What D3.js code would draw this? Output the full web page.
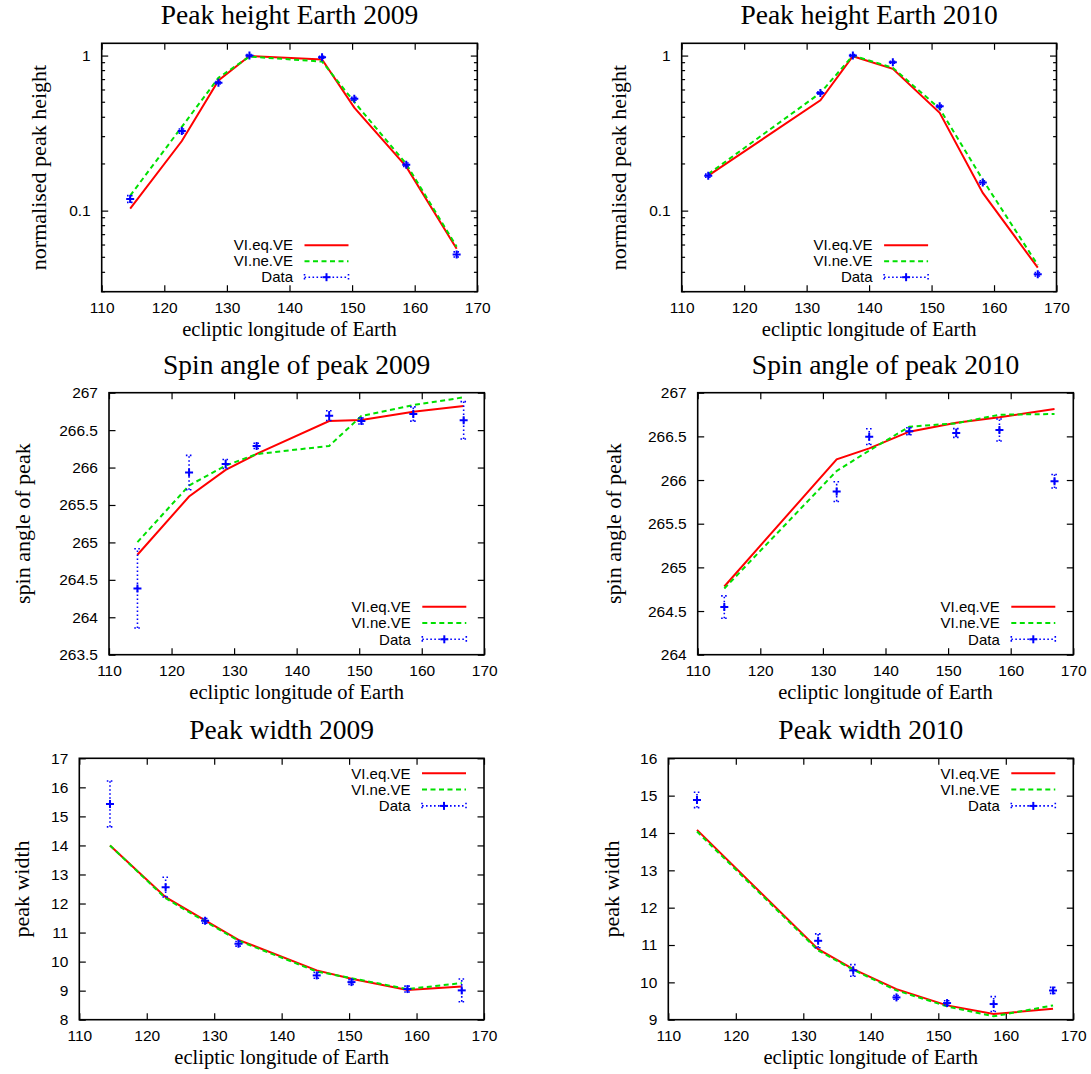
<!DOCTYPE html>
<html><head><meta charset="utf-8">
<script src="https://cdn.jsdelivr.net/npm/d3@7"></script>
<style>body{margin:0;background:#fff}svg{display:block}</style>
</head><body>
<svg id="c" width="1091" height="1074"></svg>
<script>
// ---------------- data ----------------
const lon2009 = [114.55, 122.8, 128.65, 133.6, 145.2, 150.35, 158.65, 166.7];
const lon2010 = [114.25, 132.2, 137.4, 143.8, 151.3, 158.2, 167.0];
const xTicks = [110, 120, 130, 140, 150, 160, 170];

const height09Data = [0.119, 0.326, 0.668, 1.0, 0.976, 0.527, 0.198, 0.0522];
const height09Err  = [0.006, 0.010, 0.012, 0.015, 0.015, 0.012, 0.005, 0.002];
const height09Eq   = [0.103, 0.281, 0.692, 0.995, 0.943, 0.462, 0.192, 0.0568];
const height09Ne   = [0.125, 0.347, 0.719, 0.985, 0.915, 0.502, 0.200, 0.0585];

const height10Data = [0.168, 0.574, 1.0, 0.906, 0.471, 0.152, 0.0389];
const height10Err  = [0.004, 0.010, 0.015, 0.012, 0.008, 0.004, 0.001];
const height10Eq   = [0.168, 0.515, 0.99, 0.821, 0.427, 0.130, 0.0429];
const height10Ne   = [0.172, 0.574, 1.0, 0.834, 0.455, 0.158, 0.0446];

const spin09Data = [264.386, 265.933, 266.048, 266.289, 266.693, 266.622, 266.715, 266.631];
const spin09Err  = [0.53, 0.23, 0.06, 0.035, 0.065, 0.04, 0.095, 0.25];
const spin09Eq   = [264.835, 265.613, 265.968, 266.182, 266.622, 266.635, 266.747, 266.822];
const spin09Ne   = [265.004, 265.76, 266.026, 266.18, 266.289, 266.689, 266.835, 266.938];

const spin10Data = [264.545, 265.868, 266.497, 266.558, 266.539, 266.573, 265.986];
const spin10Err  = [0.128, 0.113, 0.09, 0.04, 0.05, 0.126, 0.078];
const spin10Eq   = [264.781, 266.238, 266.363, 266.554, 266.657, 266.718, 266.813];
const spin10Ne   = [264.758, 266.104, 266.337, 266.611, 266.649, 266.748, 266.756];

const width09Data = [15.43, 12.563, 11.405, 10.614, 9.525, 9.295, 9.055, 9.009];
const width09Err  = [0.79, 0.34, 0.08, 0.08, 0.10, 0.08, 0.10, 0.39];
const width09Eq   = [13.996, 12.22, 11.42, 10.75, 9.697, 9.41, 9.02, 9.146];
const width09Ne   = [14.0, 12.18, 11.38, 10.72, 9.66, 9.43, 9.055, 9.26];

const width10Data = [14.885, 11.113, 10.32, 9.597, 9.446, 9.419, 9.785];
const width10Err  = [0.205, 0.185, 0.155, 0.05, 0.06, 0.20, 0.08];
const width10Eq   = [14.083, 10.89, 10.355, 9.82, 9.383, 9.15, 9.294];
const width10Ne   = [14.038, 10.855, 10.337, 9.785, 9.357, 9.09, 9.383];

const heightTicks = [0.1, 1];
const heightTickLabels = ["0.1", "1"];
const heightMinor = [0.03,0.04,0.05,0.06,0.07,0.08,0.09,0.2,0.3,0.4,0.5,0.6,0.7,0.8,0.9];
const spin09Ticks = [263.5, 264, 264.5, 265, 265.5, 266, 266.5, 267];
const spin10Ticks = [264, 264.5, 265, 265.5, 266, 266.5, 267];
const width09Ticks = [8, 9, 10, 11, 12, 13, 14, 15, 16, 17];
const width10Ticks = [9, 10, 11, 12, 13, 14, 15, 16];

const seriesNames = ["VI.eq.VE", "VI.ne.VE", "Data"];
const xLabel = "ecliptic longitude of Earth";

// ---------------- layout ----------------
const panels = [
  {title:"Peak height Earth 2009", ylabel:"normalised peak height", log:true, yDomain:[0.03,1.2],
   yTicks:heightTicks, yLabels:heightTickLabels, yMinor:heightMinor,
   lon:lon2009, data:height09Data, err:height09Err, eq:height09Eq, ne:height09Ne,
   box:[101.7,477.3,43.3,291.7], ylabX:38.3, key:"bottomcenter"},
  {title:"Peak height Earth 2010", ylabel:"normalised peak height", log:true, yDomain:[0.03,1.2],
   yTicks:heightTicks, yLabels:heightTickLabels, yMinor:heightMinor,
   lon:lon2010, data:height10Data, err:height10Err, eq:height10Eq, ne:height10Ne,
   box:[681.7,1056.5,43.3,291.7], ylabX:618.2, key:"bottomcenter"},
  {title:"Spin angle of peak 2009", ylabel:"spin angle of peak", log:false, yDomain:[263.5,267],
   yTicks:spin09Ticks, lon:lon2009, data:spin09Data, err:spin09Err, eq:spin09Eq, ne:spin09Ne,
   box:[109,484.3,392.7,654.7], ylabX:22.6, key:"bottomright"},
  {title:"Spin angle of peak 2010", ylabel:"spin angle of peak", log:false, yDomain:[264,267],
   yTicks:spin10Ticks, lon:lon2010, data:spin10Data, err:spin10Err, eq:spin10Eq, ne:spin10Ne,
   box:[697.7,1073.3,392.7,654.7], ylabX:613, key:"bottomright"},
  {title:"Peak width 2009", ylabel:"peak width", log:false, yDomain:[8,17],
   yTicks:width09Ticks, lon:lon2009, data:width09Data, err:width09Err, eq:width09Eq, ne:width09Ne,
   box:[79.3,484,758.3,1019.7], ylabX:21.6, key:"topright"},
  {title:"Peak width 2010", ylabel:"peak width", log:false, yDomain:[9,16],
   yTicks:width10Ticks, lon:lon2010, data:width10Data, err:width10Err, eq:width10Eq, ne:width10Ne,
   box:[668.3,1073.3,758.3,1019.7], ylabX:611.2, key:"topright"}
];

const SERIF = "'Liberation Serif','Times New Roman',serif";
const SANS = "'Liberation Sans',Arial,sans-serif";
const RED = "#ff0000", GREEN = "#00e000", BLUE = "#0000ff";
const MAJ = 6.5, MIN = 3.4;

const svg = d3.select("#c");
svg.append("rect").attr("width",1091).attr("height",1074).attr("fill","#fff");

panels.forEach((p, pi) => {
  const [x0, x1, y0, y1] = p.box;
  const w = x1 - x0, h = y1 - y0;
  const g = svg.append("g").attr("transform", `translate(${x0},${y0})`);
  const x = d3.scaleLinear().domain([110,170]).range([0,w]);
  const y = (p.log ? d3.scaleLog() : d3.scaleLinear()).domain(p.yDomain).range([h,0]);

  const clipId = "clip" + pi;
  g.append("clipPath").attr("id", clipId).append("rect").attr("width", w).attr("height", h);

  // axes
  const fmtY = p.yLabels ? (d => p.yLabels[p.yTicks.indexOf(d)]) : (d => String(d));
  const axB = g.append("g").attr("transform",`translate(0,${h})`)
    .call(d3.axisBottom(x).tickValues(xTicks).tickSizeInner(-MAJ).tickSizeOuter(0).tickPadding(10).tickFormat(d=>String(d)));
  const axT = g.append("g")
    .call(d3.axisTop(x).tickValues(xTicks).tickSizeInner(-MAJ).tickSizeOuter(0).tickFormat(""));
  const axL = g.append("g")
    .call(d3.axisLeft(y).tickValues(p.yTicks).tickSizeInner(-MAJ).tickSizeOuter(0).tickPadding(11).tickFormat(fmtY));
  const axR = g.append("g").attr("transform",`translate(${w},0)`)
    .call(d3.axisRight(y).tickValues(p.yTicks).tickSizeInner(-MAJ).tickSizeOuter(0).tickFormat(""));
  [axB, axT, axL, axR].forEach(a => {
    a.select(".domain").remove();
    a.selectAll(".tick line").attr("stroke","#000").attr("stroke-width",1.2);
    a.selectAll(".tick text").attr("font-family",SANS).attr("font-size","15.5px").attr("fill","#000");
  });
  if (p.yMinor) {
    const mg = g.append("g");
    p.yMinor.forEach(v => {
      const yy = y(v);
      mg.append("line").attr("x1",0).attr("x2",MIN).attr("y1",yy).attr("y2",yy).attr("stroke","#000").attr("stroke-width",1.2);
      mg.append("line").attr("x1",w).attr("x2",w-MIN).attr("y1",yy).attr("y2",yy).attr("stroke","#000").attr("stroke-width",1.2);
    });
  }

  // lines
  const plot = g.append("g").attr("clip-path",`url(#${clipId})`);
  const line = d3.line().x(d => x(d[0])).y(d => y(d[1]));
  plot.append("path").datum(p.lon.map((l,i)=>[l,p.eq[i]])).attr("d",line)
    .attr("fill","none").attr("stroke",RED).attr("stroke-width",2);
  plot.append("path").datum(p.lon.map((l,i)=>[l,p.ne[i]])).attr("d",line)
    .attr("fill","none").attr("stroke",GREEN).attr("stroke-width",2).attr("stroke-dasharray","5,3.5");

  // error bars + points
  const eb = plot.append("g").attr("stroke",BLUE).attr("fill","none");
  p.lon.forEach((l,i) => {
    const cx = x(l), lo = y(p.data[i]-p.err[i]), hi = y(p.data[i]+p.err[i]), cy = y(p.data[i]);
    eb.append("line").attr("x1",cx).attr("x2",cx).attr("y1",lo).attr("y2",hi)
      .attr("stroke-width",1.6).attr("stroke-dasharray","1.6,2.4");
    [lo, hi].forEach(yy => eb.append("line").attr("x1",cx-3.2).attr("x2",cx+3.2).attr("y1",yy).attr("y2",yy)
      .attr("stroke-width",1.6).attr("stroke-dasharray","1.6,2.4"));
    eb.append("line").attr("x1",cx-4).attr("x2",cx+4).attr("y1",cy).attr("y2",cy).attr("stroke-width",2);
    eb.append("line").attr("x1",cx).attr("x2",cx).attr("y1",cy-4).attr("y2",cy+4).attr("stroke-width",2);
  });

  // border
  g.append("rect").attr("width",w).attr("height",h).attr("fill","none").attr("stroke","#000").attr("stroke-width",1.6);

  // titles and labels
  svg.append("text").attr("x", x0 + w/2).attr("y", y0 - 19).attr("text-anchor","middle")
    .attr("font-family",SERIF).attr("font-size","27.5px").text(p.title);
  svg.append("text").attr("x", x0 + w/2).attr("y", y1 + 44).attr("text-anchor","middle")
    .attr("font-family",SERIF).attr("font-size","20.5px").text(xLabel);
  svg.append("text").attr("transform",`translate(${p.ylabX},${y0 + h/2}) rotate(-90)`)
    .attr("text-anchor","middle").attr("dominant-baseline","central")
    .attr("font-family",SERIF).attr("font-size","22px").text(p.ylabel);

  // key
  const SAMPLE = 44, GAP = 11.5, ROW = 16;
  let sampleEnd, rowY;
  if (p.key === "bottomcenter") {
    sampleEnd = w/2 + 59;
    rowY = i => h - 14.5 - ROW*(2-i);
  } else if (p.key === "bottomright") {
    sampleEnd = w - 18;
    rowY = i => h - 15.4 - 16.3*(2-i);
  } else {
    sampleEnd = w - 18;
    rowY = i => 15 + 16.3*i;
  }
  const k = g.append("g");
  seriesNames.forEach((nm, i) => {
    const ry = rowY(i);
    k.append("text").attr("x", sampleEnd - SAMPLE - GAP).attr("y", ry).attr("dy","0.35em")
      .attr("text-anchor","end").attr("font-family",SANS).attr("font-size","15px").text(nm);
    const sx0 = sampleEnd - SAMPLE, sx1 = sampleEnd;
    if (i === 0) {
      k.append("line").attr("x1",sx0).attr("x2",sx1).attr("y1",ry).attr("y2",ry).attr("stroke",RED).attr("stroke-width",2);
    } else if (i === 1) {
      k.append("line").attr("x1",sx0).attr("x2",sx1).attr("y1",ry).attr("y2",ry).attr("stroke",GREEN)
        .attr("stroke-width",2).attr("stroke-dasharray","5,3.5");
    } else {
      k.append("line").attr("x1",sx0).attr("x2",sx1).attr("y1",ry).attr("y2",ry).attr("stroke",BLUE)
        .attr("stroke-width",1.6).attr("stroke-dasharray","1.6,2.4");
      [sx0, sx1].forEach(xx => k.append("line").attr("x1",xx).attr("x2",xx).attr("y1",ry-3.2).attr("y2",ry+3.2)
        .attr("stroke",BLUE).attr("stroke-width",1.6).attr("stroke-dasharray","1.6,2.4"));
      const mx = (sx0+sx1)/2;
      k.append("line").attr("x1",mx-4).attr("x2",mx+4).attr("y1",ry).attr("y2",ry).attr("stroke",BLUE).attr("stroke-width",2);
      k.append("line").attr("x1",mx).attr("x2",mx).attr("y1",ry-4).attr("y2",ry+4).attr("stroke",BLUE).attr("stroke-width",2);
    }
  });
});
</script>
</body></html>
